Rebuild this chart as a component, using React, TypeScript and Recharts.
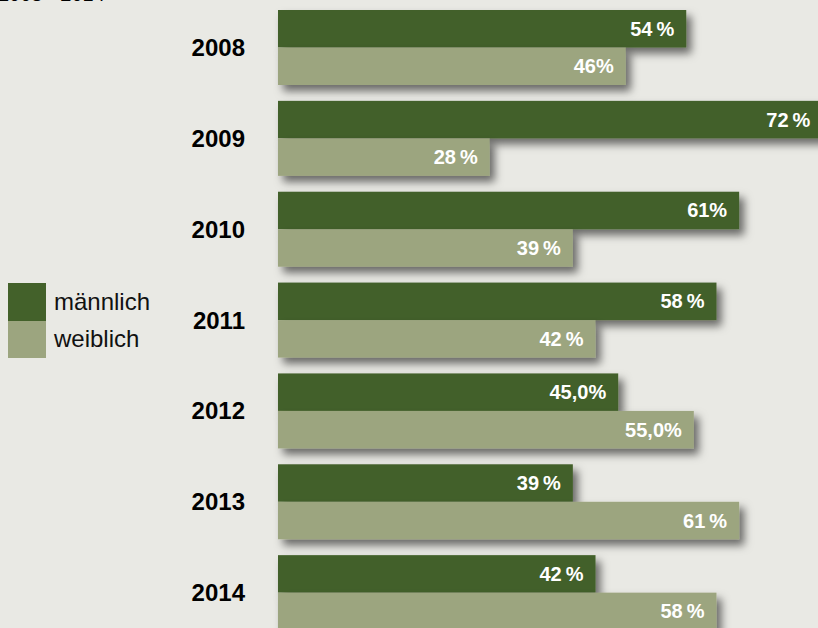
import React from 'react';
import { BarChart, Bar, XAxis, YAxis, LabelList } from 'recharts';

const years = ['2008', '2009', '2010', '2011', '2012', '2013', '2014'];
const male = [54, 72, 61, 58, 45, 39, 42];
const female = [46, 28, 39, 42, 55, 61, 58];
const maleLabels = ['54\u2009%', '72\u2009%', '61%', '58\u2009%', '45,0%', '39\u2009%', '42\u2009%'];
const femaleLabels = ['46%', '28\u2009%', '39\u2009%', '42\u2009%', '55,0%', '61\u2009%', '58\u2009%'];
const seriesNames = ['männlich', 'weiblich'];

const MALE_COLOR = '#43612a';
const FEMALE_COLOR = '#9ca57f';
const BG = '#e9e9e4';
const FONT = 'Arial, "Liberation Sans", sans-serif';

const data = years.map((year, i) => ({
  year,
  m: male[i],
  f: female[i],
  mLabel: maleLabels[i],
  fLabel: femaleLabels[i],
}));

const ShadowBar = (props: any) => {
  const { x, y, width, height, fill } = props;
  return <rect x={x} y={y} width={width} height={height} fill={fill} filter="url(#barShadow)" />;
};

const renderValue = (props: any) => {
  const { x, y, width, height, value } = props;
  return (
    <text
      x={x + width - 12}
      y={y + height / 2}
      textAnchor="end"
      dominantBaseline="central"
      fill="#ffffff"
      fontWeight="bold"
      fontSize={20}
      fontFamily={FONT}
    >
      {value}
    </text>
  );
};

const App = () => {
  return (
    <div
      style={{
        position: 'fixed',
        left: 0,
        top: 0,
        width: 818,
        height: 628,
        overflow: 'hidden',
        background: BG,
        fontFamily: FONT,
      }}
    >
      <div style={{ position: 'absolute', left: -2, top: -17, fontSize: 20, color: '#000' }}>
        2008 - 2014
      </div>
      <div style={{ position: 'absolute', left: 8, top: 283 }}>
        {seriesNames.map((name, i) => (
          <div key={name} style={{ display: 'flex', alignItems: 'center', height: 37.5 }}>
            <div
              style={{
                width: 38,
                height: 37.5,
                background: i === 0 ? MALE_COLOR : FEMALE_COLOR,
              }}
            />
            <span style={{ marginLeft: 8, fontSize: 24, color: '#111' }}>{name}</span>
          </div>
        ))}
      </div>
      <div style={{ position: 'absolute', left: 0, top: 0 }}>
        <BarChart
          layout="vertical"
          width={1034}
          height={638}
          data={data}
          margin={{ top: 2, right: 0, bottom: 0, left: 0 }}
          barGap={0}
        >
          <defs>
            <filter id="barShadow" x="-5%" y="-40%" width="120%" height="200%">
              <feDropShadow dx={5} dy={6} stdDeviation={4.5} floodColor="#000" floodOpacity={0.55} />
            </filter>
          </defs>
          <XAxis type="number" domain={[0, 100]} hide />
          <YAxis
            type="category"
            dataKey="year"
            width={278}
            axisLine={false}
            tickLine={false}
            tickMargin={27}
            tick={{ fill: '#000', fontSize: 24, fontWeight: 'bold', fontFamily: FONT }}
          />
          <Bar dataKey="m" fill={MALE_COLOR} barSize={37.5} shape={ShadowBar} isAnimationActive={false}>
            <LabelList dataKey="mLabel" content={renderValue} />
          </Bar>
          <Bar dataKey="f" fill={FEMALE_COLOR} barSize={37.5} shape={ShadowBar} isAnimationActive={false}>
            <LabelList dataKey="fLabel" content={renderValue} />
          </Bar>
        </BarChart>
      </div>
    </div>
  );
};

export default App;
